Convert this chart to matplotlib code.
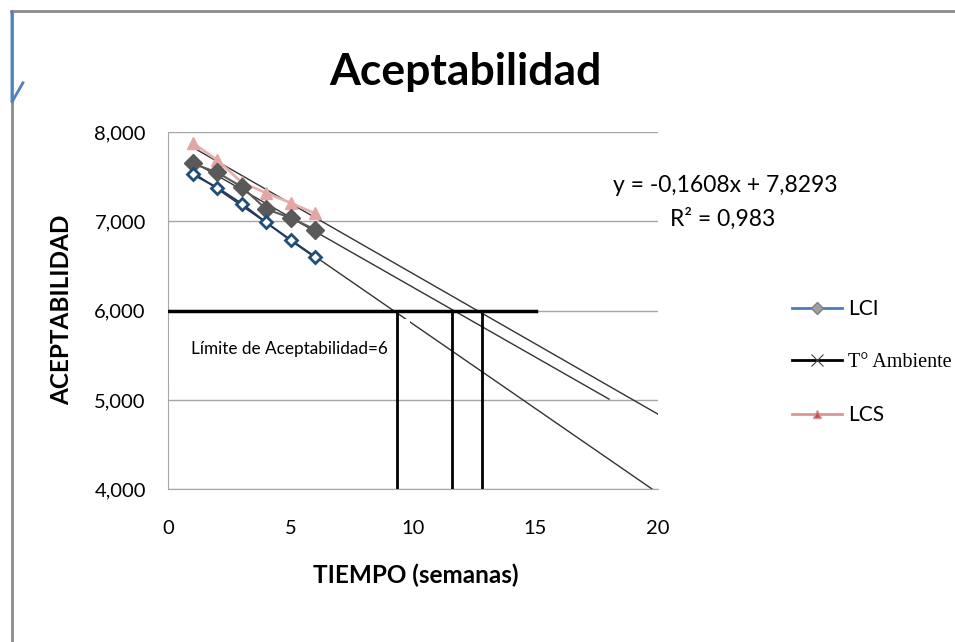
import numpy as np
import matplotlib
matplotlib.use("Agg")
import matplotlib.pyplot as plt
from matplotlib.lines import Line2D

####
# les donnees
####

semanas = [1, 2, 3, 4, 5, 6]
lci = [7.53, 7.38, 7.20, 6.99, 6.79, 6.60]
t_ambiente = [7.65, 7.55, 7.39, 7.14, 7.04, 6.91]
lcs = [7.88, 7.69, 7.44, 7.32, 7.21, 7.09]

# fin des lignes de tendance (prevision)
fin_tendance = {"LCI": 20, "T° Ambiente": 18, "LCS": 20}

limite = 6
limite_fin_x = 15
coupures_x = [9.35, 11.6, 12.8]

yticks = [4, 5, 6, 7, 8]
ytick_labels = ["4,000", "5,000", "6,000", "7,000", "8,000"]
xticks = [0, 5, 10, 15, 20]

equation = "y = -0,1608x + 7,8293"
r_carre = "R² = 0,983"

police = "Lato"

####
# la figure
####

fig = plt.figure(figsize=(9.55, 6.42), dpi=100)
ax = fig.add_axes([0.176, 0.238, 0.513, 0.556])

# les series
ax.plot(semanas, lci, color="#1F3864", lw=1.5, marker="D", ms=6,
        mfc="white", mec="#1F4E79", mew=2, zorder=4)
ax.plot(semanas, t_ambiente, color="#595959", lw=1.5, marker="D", ms=9,
        mfc="#595959", mec="#595959", zorder=3)
ax.plot(semanas, lcs, color="#E6B0AE", lw=2, marker="^", ms=8,
        mfc="#E3A6A4", mec="#E3A6A4", zorder=2)

# lignes de tendance
for nom, serie in [("LCI", lci), ("T° Ambiente", t_ambiente), ("LCS", lcs)]:
    a, b = np.polyfit(semanas, serie, 1)
    xx = np.array([1, fin_tendance[nom]])
    ax.plot(xx, a * xx + b, color="#333333", lw=1, zorder=1)

# limite d'acceptabilite
ax.plot([0, limite_fin_x], [limite, limite], color="black", lw=2.5, zorder=6)
for xc in coupures_x:
    ax.plot([xc, xc], [4, limite], color="black", lw=2, zorder=6)

ax.text(0.95, 5.57, "Límite de Aceptabilidad=6", fontsize=12.3, family=police,
        va="center", ha="left", zorder=5,
        bbox=dict(boxstyle="square,pad=1.3", fc="white", ec="none"))

# axes
ax.set_xlim(0, 20)
ax.set_ylim(4, 8)
ax.set_xticks(xticks)
ax.set_yticks(yticks)
ax.set_yticklabels(ytick_labels)
ax.tick_params(length=0, labelsize=14.5, pad=16)
for lab in ax.get_xticklabels() + ax.get_yticklabels():
    lab.set_family(police)
ax.tick_params(axis="x", pad=22)
ax.yaxis.grid(True, color="#A6A6A6", lw=1)
ax.set_axisbelow(True)
for cote in ["top", "right"]:
    ax.spines[cote].set_visible(False)
ax.spines["left"].set_color("#A6A6A6")
ax.spines["bottom"].set_color("#A6A6A6")

# textes
fig.text(0.487, 0.888, "Aceptabilidad", fontsize=32, fontweight="bold",
         family=police, ha="center", va="center")
fig.text(0.435, 0.104, "TIEMPO (semanas)", fontsize=17.5, fontweight="bold",
         family=police, ha="center", va="center")
fig.text(0.065, 0.517, "ACEPTABILIDAD", fontsize=17.5, fontweight="bold",
         family=police, ha="center", va="center", rotation=90)
fig.text(0.759, 0.711, equation, fontsize=16.5, family=police,
         ha="center", va="center")
fig.text(0.757, 0.660, r_carre, fontsize=16.5, family=police,
         ha="center", va="center")

# legende
poignees = [
    Line2D([], [], color="#4A7EBB", lw=2, marker="D", ms=6,
           mfc="#A0A0A0", mec="#808080"),
    Line2D([], [], color="black", lw=2, marker="x", ms=8, mec="#404040", mew=0.8),
    Line2D([], [], color="#D99694", lw=2, marker="^", ms=6,
           mfc="#C0504D", mec="#D99694"),
]
leg = fig.legend(poignees, ["LCI", "T° Ambiente", "LCS"], loc="center left",
                 bbox_to_anchor=(0.829, 0.436), frameon=False,
                 prop={"family": police, "size": 15},
                 handlelength=2.4, labelspacing=1.6, handletextpad=0.3,
                 borderaxespad=0, borderpad=0)
leg.get_texts()[1].set_fontfamily("Liberation Serif")
leg.get_texts()[1].set_fontsize(14.5)

# cadre de la page
fig.add_artist(Line2D([0.0115, 1.0], [0.983, 0.983], color="#8C8C8C", lw=2,
                      transform=fig.transFigure))
fig.add_artist(Line2D([0.0125, 0.0125], [0.983, 0.0], color="#8C8C8C", lw=2,
                      transform=fig.transFigure))
fig.add_artist(Line2D([0.0125, 0.0125, 0.024], [0.981, 0.841, 0.871],
                      color="#4F81BD", lw=2, transform=fig.transFigure))

fig.savefig("out.png", dpi=100)
